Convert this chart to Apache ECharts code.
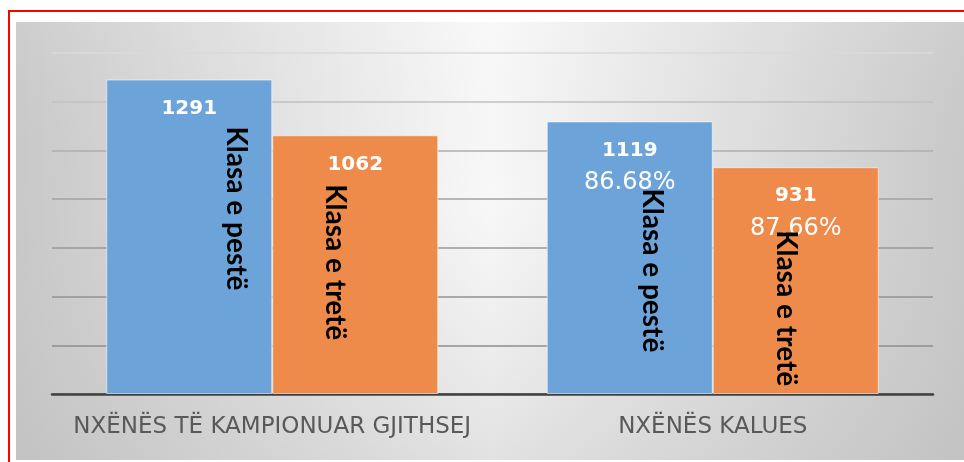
<!DOCTYPE html>
<html>
<head>
<meta charset="utf-8">
<script src="https://cdn.jsdelivr.net/npm/echarts@6/dist/echarts.min.js"></script>
<style>
html, body { margin: 0; padding: 0; background: #fff; }
#chart { width: 964px; height: 462px; }
</style>
</head>
<body>
<div id="chart"></div>
<script>
// data
const categories = ['NXËNËS TË KAMPIONUAR GJITHSEJ', 'NXËNËS KALUES'];
const seriesNames = ['Klasa e pestë', 'Klasa e tretë'];
const klasaPeste = [1291, 1119];
const klasaTrete = [1062, 931];
const perqindjaPeste = [null, '86.68%'];
const perqindjaTrete = [null, '87.66%'];
const yMax = 1400;
const yStep = 200;

const values = [klasaPeste, klasaTrete];
const percents = [perqindjaPeste, perqindjaTrete];
const colors = ['#6ca3d8', '#ee8b4a'];

// where the rotated series-name labels sit inside each bar (px from bar top-left)
const namePos = [
    [[130, 129], [105, 149]],
    [[63, 127], [73, 141]]
];

const chart = echarts.init(document.getElementById('chart'));

const valueSeries = values.map((vals, s) => ({
    name: seriesNames[s],
    type: 'bar',
    xAxisIndex: 0,
    data: vals,
    barWidth: 166,
    barGap: 0,
    z: 3,
    itemStyle: {
        color: colors[s],
        borderColor: 'rgba(255,255,255,0.55)',
        borderWidth: 1
    },
    label: {
        show: true,
        position: ['50%', 14],
        align: 'center',
        verticalAlign: 'top',
        formatter: p => {
            const pct = percents[s][p.dataIndex];
            return pct ? '{num|' + p.value + '}\n{pct|' + pct + '}' : '{num|' + p.value + '}';
        },
        rich: {
            num: { fontFamily: 'DejaVu Sans', fontWeight: 'bold', fontSize: 20, color: '#fff', lineHeight: 30, align: 'center' },
            pct: { fontFamily: 'DejaVu Sans', fontSize: 24, color: '#fff', lineHeight: 35, align: 'center' }
        }
    }
}));

const nameSeries = values.map((vals, s) => ({
    name: seriesNames[s] + ' ',
    type: 'bar',
    xAxisIndex: 1,
    silent: true,
    barWidth: 166,
    barGap: 0,
    z: 5,
    itemStyle: { color: 'rgba(0,0,0,0)' },
    data: vals.map((v, i) => ({
        value: v,
        label: { position: namePos[s][i] }
    })),
    label: {
        show: true,
        rotate: -90,
        align: 'center',
        verticalAlign: 'middle',
        formatter: seriesNames[s],
        fontFamily: 'Lato',
        fontWeight: 'bold',
        fontSize: 28,
        color: '#000'
    }
}));

chart.setOption({
    animation: false,
    backgroundColor: '#fff',
    graphic: [
        {
            type: 'rect', z: -10, silent: true,
            shape: { x: 16, y: 22, width: 948, height: 438 },
            style: {
                fill: {
                    type: 'linear', x: 0, y: 0, x2: 1, y2: 0,
                    colorStops: [
                        { offset: 0, color: '#c8c8c8' },
                        { offset: 0.5, color: '#f8f8f8' },
                        { offset: 1, color: '#c8c8c8' }
                    ]
                }
            }
        },
        {
            type: 'rect', z: -9, silent: true,
            shape: { x: 16, y: 22, width: 948, height: 438 },
            style: {
                fill: {
                    type: 'linear', x: 0, y: 0, x2: 0, y2: 1,
                    colorStops: [
                        { offset: 0, color: 'rgba(255,255,255,0.1)' },
                        { offset: 0.4, color: 'rgba(200,200,200,0)' },
                        { offset: 1, color: 'rgba(185,185,185,0.35)' }
                    ]
                }
            }
        },
        {
            type: 'polyline', z: 100, silent: true,
            shape: { points: [[9, 462], [9, 11], [964, 11]] },
            style: { stroke: '#ff0000', lineWidth: 2, fill: null }
        }
    ],
    grid: { left: 52, right: 31, top: 53, bottom: 68 },
    xAxis: [
        {
            type: 'category',
            data: categories,
            axisTick: { show: false },
            axisLine: { lineStyle: { color: '#404040', width: 2.5 } },
            axisLabel: {
                interval: 0,
                margin: 22,
                fontFamily: 'DejaVu Sans',
                fontSize: 23,
                color: '#595959'
            }
        },
        {
            type: 'category',
            data: categories,
            show: false
        }
    ],
    yAxis: {
        type: 'value',
        min: 0,
        max: yMax,
        interval: yStep,
        axisLabel: { show: false },
        axisLine: { show: false },
        axisTick: { show: false },
        splitLine: {
            lineStyle: {
                width: 1.5,
                color: ['#8c8c8c', '#8e8e8e', '#929292', '#989898', '#a2a2a2', '#aeaeae', '#c0c0c0', '#dadada']
            }
        }
    },
    series: valueSeries.concat(nameSeries)
});
</script>
</body>
</html>
